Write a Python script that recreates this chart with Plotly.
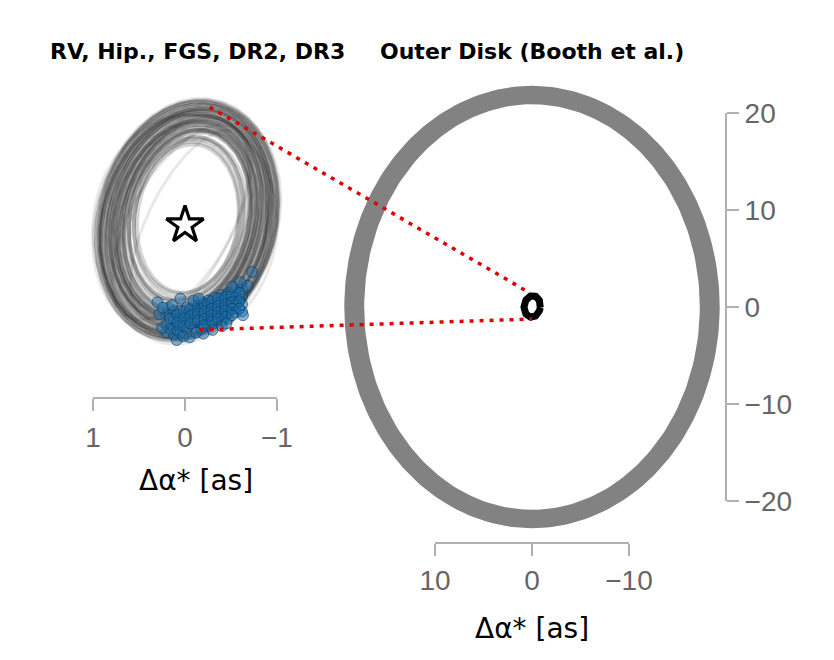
import numpy as np
import plotly.graph_objects as go

# ---------------- data ----------------
# orbit samples (east offset u = -Δα*, north v), semi-axes a (E-W), b (N-S), tilt in degrees
orb_a = [0.55, 0.57, 0.59, 0.61, 0.63, 0.65, 0.66, 0.67, 0.68, 0.69, 0.70, 0.71, 0.72, 0.73,
         0.74, 0.75, 0.76, 0.77, 0.78, 0.79, 0.80, 0.81, 0.82, 0.83, 0.84, 0.85, 0.86, 0.87,
         0.88, 0.89, 0.90, 0.91, 0.92, 0.93, 0.94, 0.95, 0.96, 0.97]
orb_b = [0.81, 0.83, 0.87, 0.90, 0.90, 0.95, 0.99, 0.97, 1.00, 1.04, 1.01, 1.04, 1.08, 1.05,
         1.07, 1.11, 1.08, 1.11, 1.14, 1.10, 1.14, 1.18, 1.15, 1.17, 1.21, 1.18, 1.20, 1.24,
         1.21, 1.24, 1.27, 1.24, 1.27, 1.30, 1.28, 1.30, 1.32, 1.33]
orb_cu = [0.03, 0.02, 0.04, 0.01, 0.03, 0.05, 0.02, 0.03, 0.04, 0.01, 0.03, 0.02, 0.05, 0.03,
          0.02, 0.04, 0.01, 0.03, 0.02, 0.04, 0.03, 0.01, 0.03, 0.05, 0.02, 0.03, 0.04, 0.02,
          0.03, 0.01, 0.04, 0.02, 0.03, 0.02, 0.04, 0.03, 0.02, 0.025]
orb_cv = [0.07, 0.08, 0.07, 0.07, 0.06, 0.07, 0.06, 0.07, 0.05, 0.07, 0.06, 0.04, 0.07, 0.06,
          0.05, 0.07, 0.06, 0.04, 0.06, 0.05, 0.07, 0.05, 0.06, 0.04, 0.06, 0.05, 0.07, 0.05,
          0.04, 0.06, 0.05, 0.04, 0.06, 0.05, 0.04, 0.06, 0.05, 0.055]
orb_tilt = [-7, -8, -9, -10, -11, -11, -14, -12, -15, -14, -10, -17, -13, -15,
            -12, -17, -14, -11, -16, -13, -18, -12, -15, -10, -17, -14, -12, -16,
            -13, -18, -11, -15, -14, -12, -16, -13, -15, -14]
# faint outlying orbit samples
faint_cu = [0.05, -0.04, 0.00, 0.06, 0.02, -0.02]
faint_cv = [0.00, 0.03, -0.02, 0.10, 0.05, -0.05]
faint_a = [0.46, 0.55, 1.00, 0.60, 0.98, 0.90]
faint_b = [1.12, 1.18, 1.22, 0.95, 1.30, 1.25]
faint_tilt = [-26, -30, -6, -22, -20, -8]

# mean orbit drawn at disk scale
mean_orbit = dict(cu=0.02, cv=0.06, a=0.84, b=1.12, tilt=-8)

# predicted positions (Δα*, Δδ) in arcsec
pts_x = [0.20, 0.20, 0.20, 0.12, 0.12, 0.12, 0.12, 0.05, 0.05, 0.05, 0.05,
         -0.02, -0.02, -0.02, -0.02, -0.10, -0.10, -0.10, -0.10,
         -0.18, -0.18, -0.18, -0.18, -0.18, -0.25, -0.25, -0.25, -0.25, -0.25,
         -0.32, -0.32, -0.32, -0.32, -0.32, -0.40, -0.40, -0.40, -0.40, -0.40,
         -0.47, -0.47, -0.47, -0.47, -0.47, -0.55, -0.55, -0.55, -0.55,
         -0.62, -0.62, -0.62, -0.62,
         0.16, 0.16, 0.08, 0.08, 0.08, 0.01, 0.01, 0.01, -0.06, -0.06, -0.06,
         -0.14, -0.14, -0.14, -0.21, -0.21, -0.21, -0.21, -0.29, -0.29, -0.29, -0.29,
         -0.36, -0.36, -0.36, -0.36, -0.44, -0.44, -0.44, -0.44, -0.51, -0.51, -0.51, -0.51,
         -0.59, -0.59, -0.59,
         0.30, 0.18, 0.05, -0.09, 0.09, -0.05, -0.20, -0.63, -0.73, -0.60, -0.51, -0.68,
         0.25, -0.40, 0.28, 0.24, 0.14, -0.12, -0.30, -0.45, -0.15, 0.02]
pts_y = [-0.98, -1.08, -1.17, -0.94, -1.03, -1.12, -1.19, -0.93, -1.01, -1.09, -1.17,
         -0.90, -0.97, -1.05, -1.13, -0.87, -0.95, -1.03, -1.11,
         -0.84, -0.92, -1.00, -1.07, -1.13, -0.82, -0.89, -0.96, -1.03, -1.10,
         -0.79, -0.86, -0.93, -1.00, -1.07, -0.76, -0.83, -0.90, -0.97, -1.04,
         -0.74, -0.81, -0.88, -0.95, -1.02, -0.72, -0.79, -0.87, -0.95,
         -0.70, -0.78, -0.86, -0.94,
         -1.02, -1.13, -0.98, -1.06, -1.15, -0.94, -1.02, -1.10, -0.91, -0.99, -1.07,
         -0.88, -0.96, -1.04, -0.86, -0.94, -1.02, -1.09, -0.83, -0.91, -0.98, -1.05,
         -0.80, -0.88, -0.95, -1.02, -0.78, -0.86, -0.93, -1.00, -0.76, -0.84, -0.91, -0.98,
         -0.74, -0.83, -0.91,
         -0.84, -0.90, -0.80, -0.82, -1.25, -1.22, -1.18, -0.98, -0.51, -0.62, -0.67, -0.66,
         -1.12, -1.10, -0.97, -0.90, -0.87, -1.17, -1.14, -1.07, -0.80, -1.21]

# outer debris disk ring (arcsec): semi-axes of outer and inner edges
disk_outer = (19.35, 22.8)
disk_inner = (17.3, 20.9)

# connector anchors (Δα*, Δδ) in each panel
conn_left = [(-0.27, 1.28), (-0.16, -1.14)]
conn_right = [(0.2, 1.44), (0.0, -1.24)]

left_ticks = [1, 0, -1]
left_ticktext = ["1", "0", "\u22121"]
right_xticks = [10, 0, -10]
right_xticktext = ["10", "0", "\u221210"]
right_yticks = [20, 10, 0, -10, -20]
right_yticktext = ["20", "10", "0", "\u221210", "\u221220"]

title_left = "RV, Hip., FGS, DR2, DR3"
title_right = "Outer Disk (Booth et al.)"
xlabel = "\u0394\u03b1* [as]"

# ---------------- helpers ----------------
tt = np.linspace(0, 2 * np.pi, 241)


def ellipse(cu, cv, a, b, tilt):
    th = np.radians(tilt)
    u = cu + a * np.cos(tt) * np.cos(th) - b * np.sin(tt) * np.sin(th)
    v = cv + a * np.cos(tt) * np.sin(th) + b * np.sin(tt) * np.cos(th)
    return -u, v


W, H = 834, 660
L_XDOM = [85 / W, 295 / W]
L_YDOM = [(H - 398) / H, (H - 90) / H]
L_XR = [1.087, -1.196]
L_YR = [-1.880, 1.467]
R_XDOM = [338 / W, 726 / W]
R_YDOM = [(H - 543) / H, (H - 75) / H]
R_XR = [20.0, -20.0]
R_YR = [-24.33, 23.918]


def to_paper(dom, rng, val):
    return dom[0] + (val - rng[0]) / (rng[1] - rng[0]) * (dom[1] - dom[0])


fig = go.Figure()

# left panel orbits
for cu, cv, a, b, tl in zip(faint_cu, faint_cv, faint_a, faint_b, faint_tilt):
    x, y = ellipse(cu, cv, a, b, tl)
    fig.add_trace(go.Scatter(x=x, y=y, mode="lines", xaxis="x", yaxis="y",
                             line=dict(color="rgba(0,0,0,0.09)", width=3),
                             hoverinfo="skip", showlegend=False))
for cu, cv, a, b, tl in zip(orb_cu, orb_cv, orb_a, orb_b, orb_tilt):
    x, y = ellipse(cu, cv, a, b, tl)
    fig.add_trace(go.Scatter(x=x, y=y, mode="lines", xaxis="x", yaxis="y",
                             line=dict(color="rgba(0,0,0,0.17)", width=4),
                             hoverinfo="skip", showlegend=False))

fig.add_trace(go.Scatter(x=pts_x, y=pts_y, mode="markers", xaxis="x", yaxis="y",
                         marker=dict(size=11, color="rgba(25,110,170,0.5)",
                                     line=dict(color="rgba(10,55,95,0.6)", width=1)),
                         hoverinfo="skip", showlegend=False))

fig.add_trace(go.Scatter(x=[0], y=[0], mode="markers", xaxis="x", yaxis="y",
                         marker=dict(symbol="star-open", size=28, color="black",
                                     line=dict(color="black", width=3.2)),
                         hoverinfo="skip", showlegend=False))

# right panel: disk ring
xo, yo = ellipse(0, 0, disk_outer[0], disk_outer[1], 0)
xi, yi = ellipse(0, 0, disk_inner[0], disk_inner[1], 0)
fig.add_trace(go.Scatter(x=np.concatenate([xo, xi[::-1]]), y=np.concatenate([yo, yi[::-1]]),
                         mode="lines", fill="toself", fillcolor="#828282",
                         line=dict(width=0, color="#828282"), xaxis="x2", yaxis="y2",
                         hoverinfo="skip", showlegend=False))
xm, ym = ellipse(mean_orbit["cu"], mean_orbit["cv"], mean_orbit["a"], mean_orbit["b"], mean_orbit["tilt"])
fig.add_trace(go.Scatter(x=xm, y=ym, mode="lines", xaxis="x2", yaxis="y2",
                         line=dict(color="black", width=7),
                         hoverinfo="skip", showlegend=False))

tickfont = dict(family="Liberation Sans, Arial, sans-serif", size=28, color="#666666")
spine = "#b0b0b0"
common = dict(showgrid=False, zeroline=False, showline=False, ticks="outside",
              ticklen=12, tickwidth=2, tickcolor=spine, tickfont=tickfont)

fig.update_layout(
    width=W, height=H, margin=dict(l=0, r=0, t=0, b=0),
    paper_bgcolor="white", plot_bgcolor="white",
    xaxis=dict(domain=L_XDOM, range=L_XR, anchor="y", tickvals=left_ticks,
               ticktext=left_ticktext, ticklabelstandoff=2, **common),
    yaxis=dict(domain=L_YDOM, range=L_YR, anchor="x", visible=False),
    xaxis2=dict(domain=R_XDOM, range=R_XR, anchor="y2", tickvals=right_xticks,
                ticktext=right_xticktext, **common),
    yaxis2=dict(domain=R_YDOM, range=R_YR, anchor="x2", side="right",
                tickvals=right_yticks, ticktext=right_yticktext, **common),
)

shapes = [
    dict(type="line", xref="x", yref="y domain", x0=left_ticks[0], x1=left_ticks[-1], y0=0, y1=0,
         line=dict(color=spine, width=2)),
    dict(type="line", xref="x2", yref="y2 domain", x0=right_xticks[0], x1=right_xticks[-1], y0=0, y1=0,
         line=dict(color=spine, width=2)),
    dict(type="line", xref="x2 domain", yref="y2", x0=1, x1=1, y0=right_yticks[0], y1=right_yticks[-1],
         line=dict(color=spine, width=2)),
]
for (lx, ly), (rx, ry) in zip(conn_left, conn_right):
    shapes.append(dict(type="line", xref="paper", yref="paper",
                       x0=to_paper(L_XDOM, L_XR, lx), y0=to_paper(L_YDOM, L_YR, ly),
                       x1=to_paper(R_XDOM, R_XR, rx), y1=to_paper(R_YDOM, R_YR, ry),
                       line=dict(color="rgb(225,0,0)", width=3.5, dash="4px,6px")))
fig.update_layout(shapes=shapes)

tfont = dict(family="DejaVu Sans, sans-serif", size=22, color="black")
lfont = dict(family="DejaVu Sans, sans-serif", size=28, color="black")
fig.update_layout(annotations=[
    dict(text="<b>%s</b>" % title_left, x=197 / W, y=1 - 52 / H, xref="paper", yref="paper",
         showarrow=False, font=tfont, xanchor="center", yanchor="middle"),
    dict(text="<b>%s</b>" % title_right, x=531.5 / W, y=1 - 52 / H, xref="paper", yref="paper",
         showarrow=False, font=tfont, xanchor="center", yanchor="middle"),
    dict(text=xlabel, x=195.5 / W, y=1 - 480 / H, xref="paper", yref="paper",
         showarrow=False, font=lfont, xanchor="center", yanchor="middle"),
    dict(text=xlabel, x=531.5 / W, y=1 - 628 / H, xref="paper", yref="paper",
         showarrow=False, font=lfont, xanchor="center", yanchor="middle"),
])

fig.write_html("out.html", config={"displayModeBar": False},
               post_script="document.body.style.margin='0px';")
